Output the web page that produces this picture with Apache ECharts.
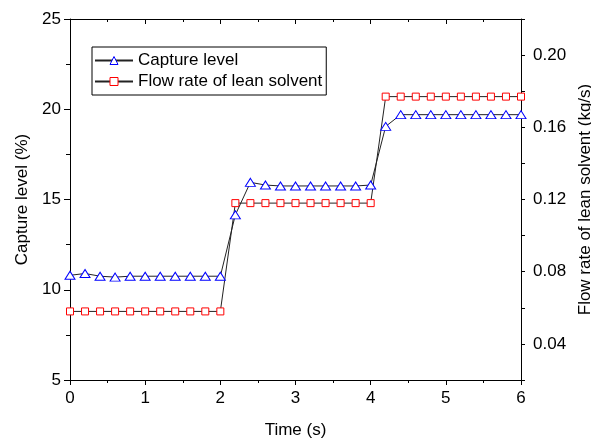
<!DOCTYPE html>
<html>
<head>
<meta charset="utf-8">
<script src="https://cdn.jsdelivr.net/npm/echarts@6/dist/echarts.min.js"></script>
<style>
  html, body { margin: 0; padding: 0; background: #fff; }
  #chart { width: 591px; height: 441px; }
</style>
</head>
<body>
<div id="chart"></div>
<script>
// Time points (s)
const time = [0, 0.2, 0.4, 0.6, 0.8, 1.0, 1.2, 1.4, 1.6, 1.8, 2.0,
              2.2, 2.4, 2.6, 2.8, 3.0, 3.2, 3.4, 3.6, 3.8, 4.0,
              4.2, 4.4, 4.6, 4.8, 5.0, 5.2, 5.4, 5.6, 5.8, 6.0];
// Capture level (%)
const captureLevel = [10.8, 10.9, 10.75, 10.7, 10.75, 10.75, 10.75, 10.75, 10.75, 10.75, 10.75,
                      14.15, 15.95, 15.8, 15.75, 15.75, 15.75, 15.75, 15.75, 15.75, 15.8,
                      19.05, 19.7, 19.7, 19.7, 19.7, 19.7, 19.7, 19.7, 19.7, 19.7];
// Flow rate of lean solvent (kg/s)
const leanFlow = [0.058, 0.058, 0.058, 0.058, 0.058, 0.058, 0.058, 0.058, 0.058, 0.058, 0.058,
                  0.118, 0.118, 0.118, 0.118, 0.118, 0.118, 0.118, 0.118, 0.118, 0.118,
                  0.177, 0.177, 0.177, 0.177, 0.177, 0.177, 0.177, 0.177, 0.177, 0.177];

const FONT = "'Liberation Sans', Arial, Helvetica, sans-serif";
const axisColor = '#000';
const BLUE = '#0000ff';
const RED = '#ff0000';

const chart = echarts.init(document.getElementById('chart'), null, { renderer: 'canvas' });

const pairs = (ys) => time.map((t, i) => [t, ys[i]]);

chart.setOption({
  animation: false,
  backgroundColor: '#fff',
  textStyle: { fontFamily: FONT, color: '#000' },
  grid: { left: 70, right: 70, top: 19, bottom: 61, containLabel: false, outerBoundsMode: 'none' },
  legend: {
    orient: 'vertical',
    left: 92,
    top: 47,
    padding: [5, 4, 5, 2],
    itemGap: 4,
    itemWidth: 38,
    itemHeight: 10,
    borderColor: '#000',
    borderWidth: 1,
    borderRadius: 0,
    textStyle: { fontFamily: FONT, fontSize: 17, color: '#000' },
    data: [
      { name: 'Capture level', itemStyle: { color: '#fff', borderColor: BLUE, borderWidth: 1 } },
      { name: 'Flow rate of lean solvent', itemStyle: { color: '#fff', borderColor: RED, borderWidth: 1 } }
    ]
  },
  xAxis: [
    {
      type: 'value', min: 0, max: 6, interval: 1,
      name: 'Time (s)', nameLocation: 'middle', nameGap: 42,
      nameTextStyle: { fontFamily: FONT, fontSize: 17, color: '#000' },
      axisLine: { show: true, onZero: false, lineStyle: { color: axisColor, width: 1 } },
      axisTick: { show: true, length: 5, lineStyle: { color: axisColor } },
      minorTick: { show: true, splitNumber: 2, length: 3, lineStyle: { color: axisColor } },
      axisLabel: { fontFamily: FONT, fontSize: 17, color: '#000', margin: 10 },
      splitLine: { show: false }
    },
    {
      type: 'value', min: 0, max: 6, interval: 1, position: 'top',
      axisLine: { show: true, onZero: false, lineStyle: { color: axisColor, width: 1 } },
      axisTick: { show: true, inside: true, length: 5, lineStyle: { color: axisColor } },
      minorTick: { show: true, splitNumber: 2, length: 3, lineStyle: { color: axisColor } },
      axisLabel: { show: false },
      splitLine: { show: false }
    }
  ],
  yAxis: [
    {
      type: 'value', min: 5, max: 25, interval: 5, position: 'left',
      name: 'Capture level (%)', nameLocation: 'middle', nameGap: 33,
      nameTextStyle: { fontFamily: FONT, fontSize: 17, color: '#000' },
      axisLine: { show: true, onZero: false, lineStyle: { color: axisColor, width: 1 } },
      axisTick: { show: true, length: 6, lineStyle: { color: axisColor } },
      minorTick: { show: true, splitNumber: 2, length: 4, lineStyle: { color: axisColor } },
      axisLabel: { fontFamily: FONT, fontSize: 17, color: '#000', margin: 9 },
      splitLine: { show: false }
    },
    {
      type: 'value', min: 0.02, max: 0.22, interval: 0.02, position: 'right',
      name: 'Flow rate of lean solvent (kg/s)', nameLocation: 'middle', nameGap: 50,
      nameRotate: 90,
      nameTextStyle: { fontFamily: FONT, fontSize: 17, color: '#000' },
      axisLine: { show: true, onZero: false, lineStyle: { color: axisColor, width: 1 } },
      axisTick: { show: true, length: 4, lineStyle: { color: axisColor } },
      axisLabel: {
        fontFamily: FONT, fontSize: 17, color: '#000', margin: 12,
        formatter: (v) => {
          const k = Math.round(v * 100);
          return (k % 4 === 0 && k >= 4 && k <= 20) ? v.toFixed(2) : '';
        }
      },
      splitLine: { show: false }
    }
  ],
  series: [
    {
      name: 'Capture level',
      type: 'line',
      xAxisIndex: 0, yAxisIndex: 0,
      data: pairs(captureLevel),
      symbol: 'triangle',
      symbolSize: [10, 8],
      showAllSymbol: true,
      lineStyle: { color: '#222', width: 1 },
      itemStyle: { color: '#fff', borderColor: BLUE, borderWidth: 1 },
      z: 3
    },
    {
      name: 'Flow rate of lean solvent',
      type: 'line',
      xAxisIndex: 0, yAxisIndex: 1,
      data: pairs(leanFlow),
      symbol: 'rect',
      symbolSize: 7,
      showAllSymbol: true,
      lineStyle: { color: '#222', width: 1 },
      itemStyle: { color: '#fff', borderColor: RED, borderWidth: 1 },
      z: 2
    }
  ]
});
</script>
</body>
</html>
